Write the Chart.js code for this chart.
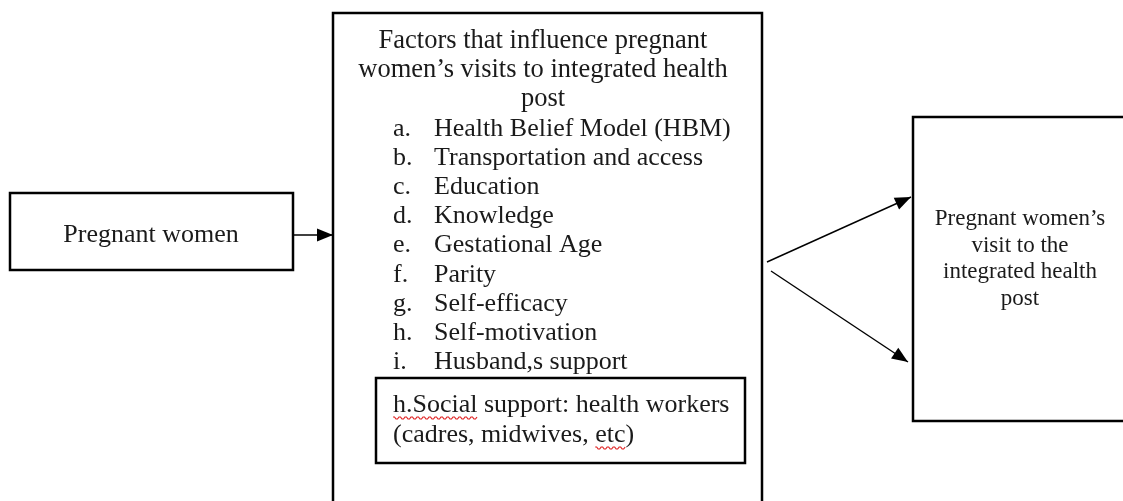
<!DOCTYPE html>
<html>
<head>
<meta charset="utf-8">
<script src="https://cdn.jsdelivr.net/npm/chart.js@4.4.0/dist/chart.umd.min.js"></script>
<style>
  html, body { margin: 0; padding: 0; background: #fff; }
  canvas { display: block; }
</style>
</head>
<body>
<canvas id="diagram" width="1123" height="501"></canvas>
<script>
// texts of the diagram
const sourceLabel = ["Pregnant women"];
const factorTitle = ["Factors that influence pregnant", "women\u2019s visits to integrated health", "post"];
const factorMarkers = ["a.", "b.", "c.", "d.", "e.", "f.", "g.", "h.", "i."];
const factorItems = [
    "Health Belief Model (HBM)",
    "Transportation and access",
    "Education",
    "Knowledge",
    "Gestational Age",
    "Parity",
    "Self-efficacy",
    "Self-motivation",
    "Husband,s support",
];
const socialLines = ["h.Social support: health workers", "(cadres, midwives, etc)"];
const spellMarked = ["h.Social", "etc"];
const outcomeLines = ["Pregnant women\u2019s", "visit to the", "integrated health", "post"];

// layout, in scale units (x: 0..1123, y: 0..501 top-down)
const boxes = {
    source: { x0: 10, y0: 193, x1: 293, y1: 270 },
    factors: { x0: 333, y0: 13, x1: 762, y1: 530 },
    social: { x0: 376, y0: 378, x1: 745, y1: 463 },
    outcome: { x0: 913, y0: 117, x1: 1140, y1: 421 },
};
const arrows = [
    { from: [293, 235], to: [333, 235] },
    { from: [767, 262], to: [911, 197] },
    { from: [771, 271], to: [908, 362] },
];

function rectPoints(b) {
    return [
        { x: b.x0, y: b.y0 }, { x: b.x1, y: b.y0 }, { x: b.x1, y: b.y1 },
        { x: b.x0, y: b.y1 }, { x: b.x0, y: b.y0 },
    ];
}

const datasets = [];
Object.keys(boxes).forEach(function (k) {
    datasets.push({
        data: rectPoints(boxes[k]),
        showLine: true,
        borderColor: "#000",
        borderWidth: 2.5,
        borderJoinStyle: "miter",
        borderCapStyle: "square",
        pointRadius: 0,
        tension: 0,
    });
});
arrows.forEach(function (a) {
    datasets.push({
        data: [{ x: a.from[0], y: a.from[1] }, { x: a.to[0], y: a.to[1] }],
        showLine: true,
        borderColor: "#000",
        borderWidth: 1.4,
        pointRadius: 0,
    });
});

const FONT = "'Liberation Serif', 'Times New Roman', serif";

const diagramPlugin = {
    id: "diagramText",
    afterDatasetsDraw(chart) {
        const ctx = chart.ctx;
        const xs = chart.scales.x;
        const ys = chart.scales.y;
        const px = (v) => xs.getPixelForValue(v);
        const py = (v) => ys.getPixelForValue(v);
        ctx.save();

        // arrow heads
        ctx.fillStyle = "#000";
        arrows.forEach(function (a) {
            const x1 = px(a.from[0]), y1 = py(a.from[1]);
            const x2 = px(a.to[0]), y2 = py(a.to[1]);
            const ang = Math.atan2(y2 - y1, x2 - x1);
            const len = 16, half = 6.5;
            ctx.beginPath();
            ctx.moveTo(x2, y2);
            ctx.lineTo(x2 - len * Math.cos(ang) + half * Math.sin(ang), y2 - len * Math.sin(ang) - half * Math.cos(ang));
            ctx.lineTo(x2 - len * Math.cos(ang) - half * Math.sin(ang), y2 - len * Math.sin(ang) + half * Math.cos(ang));
            ctx.closePath();
            ctx.fill();
        });

        ctx.fillStyle = "#1a1a1a";
        ctx.textBaseline = "alphabetic";

        // source box
        ctx.font = "26px " + FONT;
        ctx.textAlign = "center";
        ctx.fillText(sourceLabel[0], px(151), py(242));

        // factors title
        ctx.font = "26.5px " + FONT;
        const step = 29.2;
        factorTitle.forEach(function (t, i) {
            ctx.fillText(t, px(543), py(48 + i * step));
        });
        // list
        ctx.font = "26px " + FONT;
        ctx.textAlign = "left";
        factorItems.forEach(function (t, i) {
            const y = py(48 + (i + factorTitle.length) * step);
            ctx.fillText(factorMarkers[i], px(393), y);
            ctx.fillText(t, px(434), y);
        });

        // social support box
        socialLines.forEach(function (t, i) {
            const x = px(393), y = py(412 + i * 30);
            ctx.fillText(t, x, y);
            spellMarked.forEach(function (w) {
                const idx = t.indexOf(w);
                if (idx < 0) return;
                const start = x + ctx.measureText(t.slice(0, idx)).width;
                const wid = ctx.measureText(w).width;
                ctx.strokeStyle = "#e02020";
                ctx.lineWidth = 1.2;
                ctx.beginPath();
                for (let k = 0; k <= wid; k += 1.5) {
                    const yy = y + 5 + ((Math.floor(k / 3) % 2) ? 2 : 0);
                    if (k === 0) ctx.moveTo(start + k, yy);
                    else ctx.lineTo(start + k, yy);
                }
                ctx.stroke();
            });
        });

        // outcome box
        ctx.font = "23px " + FONT;
        ctx.textAlign = "center";
        outcomeLines.forEach(function (t, i) {
            ctx.fillText(t, px(1020), py(225 + i * 26.7));
        });

        ctx.restore();
    },
};

const config = {
    type: "scatter",
    data: { datasets: datasets },
    options: {
        responsive: false,
        animation: false,
        devicePixelRatio: 1,
        layout: { padding: 0 },
        scales: {
            x: { type: "linear", min: 0, max: 1123, display: false },
            y: { type: "linear", min: 0, max: 501, reverse: true, display: false },
        },
        plugins: {
            legend: { display: false },
            tooltip: { enabled: false },
        },
        events: [],
    },
    plugins: [diagramPlugin],
};

const diagramCanvas = document.getElementById("diagram");
const diagramChart = new Chart(diagramCanvas, config);
</script>
</body>
</html>
